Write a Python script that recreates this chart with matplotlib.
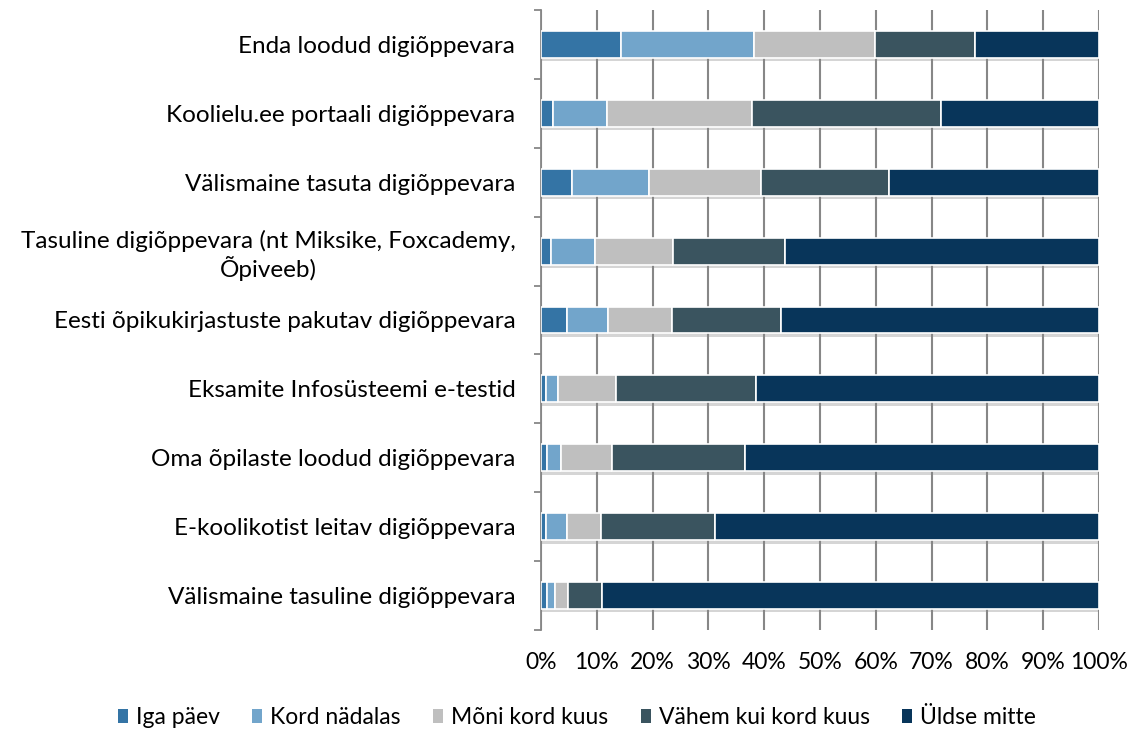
import matplotlib
matplotlib.use("Agg")
import matplotlib.pyplot as plt
import matplotlib.patheffects as pe
import numpy as np

categories = [
    "Enda loodud digiõppevara",
    "Koolielu.ee portaali digiõppevara",
    "Välismaine tasuta digiõppevara",
    "Tasuline digiõppevara (nt Miksike, Foxcademy,\nÕpiveeb)",
    "Eesti õpikukirjastuste pakutav digiõppevara",
    "Eksamite Infosüsteemi e-testid",
    "Oma õpilaste loodud digiõppevara",
    "E-koolikotist leitav digiõppevara",
    "Välismaine tasuline digiõppevara",
]
series_names = ["Iga päev", "Kord nädalas", "Mõni kord kuus", "Vähem kui kord kuus", "Üldse mitte"]
iga_paev       = [14.3, 2.2, 5.6, 1.8, 4.6, 0.9, 1.1, 0.9, 1.0]
kord_nadalas   = [23.8, 9.7, 13.8, 7.8, 7.4, 2.2, 2.5, 3.8, 1.5]
moni_kord_kuus = [21.7, 25.9, 20.0, 14.1, 11.4, 10.3, 9.2, 6.1, 2.4]
vahem_kui      = [17.9, 33.8, 22.9, 20.1, 19.7, 25.2, 23.7, 20.3, 6.0]
uldse_mitte    = [22.3, 28.4, 37.7, 56.2, 56.9, 61.4, 63.5, 68.9, 89.1]
xtick_labels = ["0%", "10%", "20%", "30%", "40%", "50%", "60%", "70%", "80%", "90%", "100%"]

colors = ["#3474A5", "#72A5CB", "#BFBFBF", "#3A545F", "#08355A"]

plt.rcParams['font.family'] = ['Lato', 'DejaVu Sans']
FS = 16.5
FS_Y = 17.5

fig = plt.figure(figsize=(11.35, 7.33), dpi=100)
W, H = 1135, 733
ax = fig.add_axes([541 / W, 1 - 630 / H, (1099 - 541) / W, (630 - 10) / H])

data = [iga_paev, kord_nadalas, moni_kord_kuus, vahem_kui, uldse_mitte]
y = np.arange(len(categories))
left = np.zeros(len(categories))
shadow = [pe.SimplePatchShadow(offset=(0, -2.5), shadow_rgbFace="#888888", alpha=0.35), pe.Normal()]
for vals, name, col in zip(data, series_names, colors):
    bars = ax.barh(y, vals, left=left, height=0.39, color=col, edgecolor="white",
                   linewidth=1.2, label=name, zorder=3)
    for b in bars:
        b.set_path_effects(shadow)
    left += np.array(vals)

ax.set_xlim(0, 100)
ax.set_ylim(len(categories) - 0.5, -0.5)
ax.set_xticks(np.arange(0, 101, 10))
ax.set_xticklabels(xtick_labels, fontsize=FS, color="#000000")
ax.tick_params(axis="x", length=0, pad=16)
ax.set_yticks(y)
ax.set_yticklabels(categories, fontsize=FS_Y, color="#000000", ha="right")
for t in ax.get_yticklabels():
    t.set_multialignment("center")
ax.tick_params(axis="y", which="major", length=0, pad=18.5)
ax.set_yticks(np.arange(-0.5, len(categories), 1), minor=True)
ax.tick_params(axis="y", which="minor", length=5, width=1.3, color="#878787", direction="out")

ax.grid(axis="x", color="#878787", linewidth=1.5, zorder=0)
for s in ["top", "right", "bottom"]:
    ax.spines[s].set_visible(False)
ax.spines["left"].set_color("#878787")
ax.spines["left"].set_linewidth(1.3)

leg = fig.legend(loc="center", bbox_to_anchor=(577 / W, 1 - 718 / H), ncol=5, frameon=False,
                 fontsize=FS, handlelength=0.45, handleheight=0.55, handletextpad=0.35,
                 columnspacing=1.4)
for h in leg.legend_handles:
    h.set_path_effects([])
    h.set_edgecolor("none")

fig.savefig("out.png", dpi=100)
